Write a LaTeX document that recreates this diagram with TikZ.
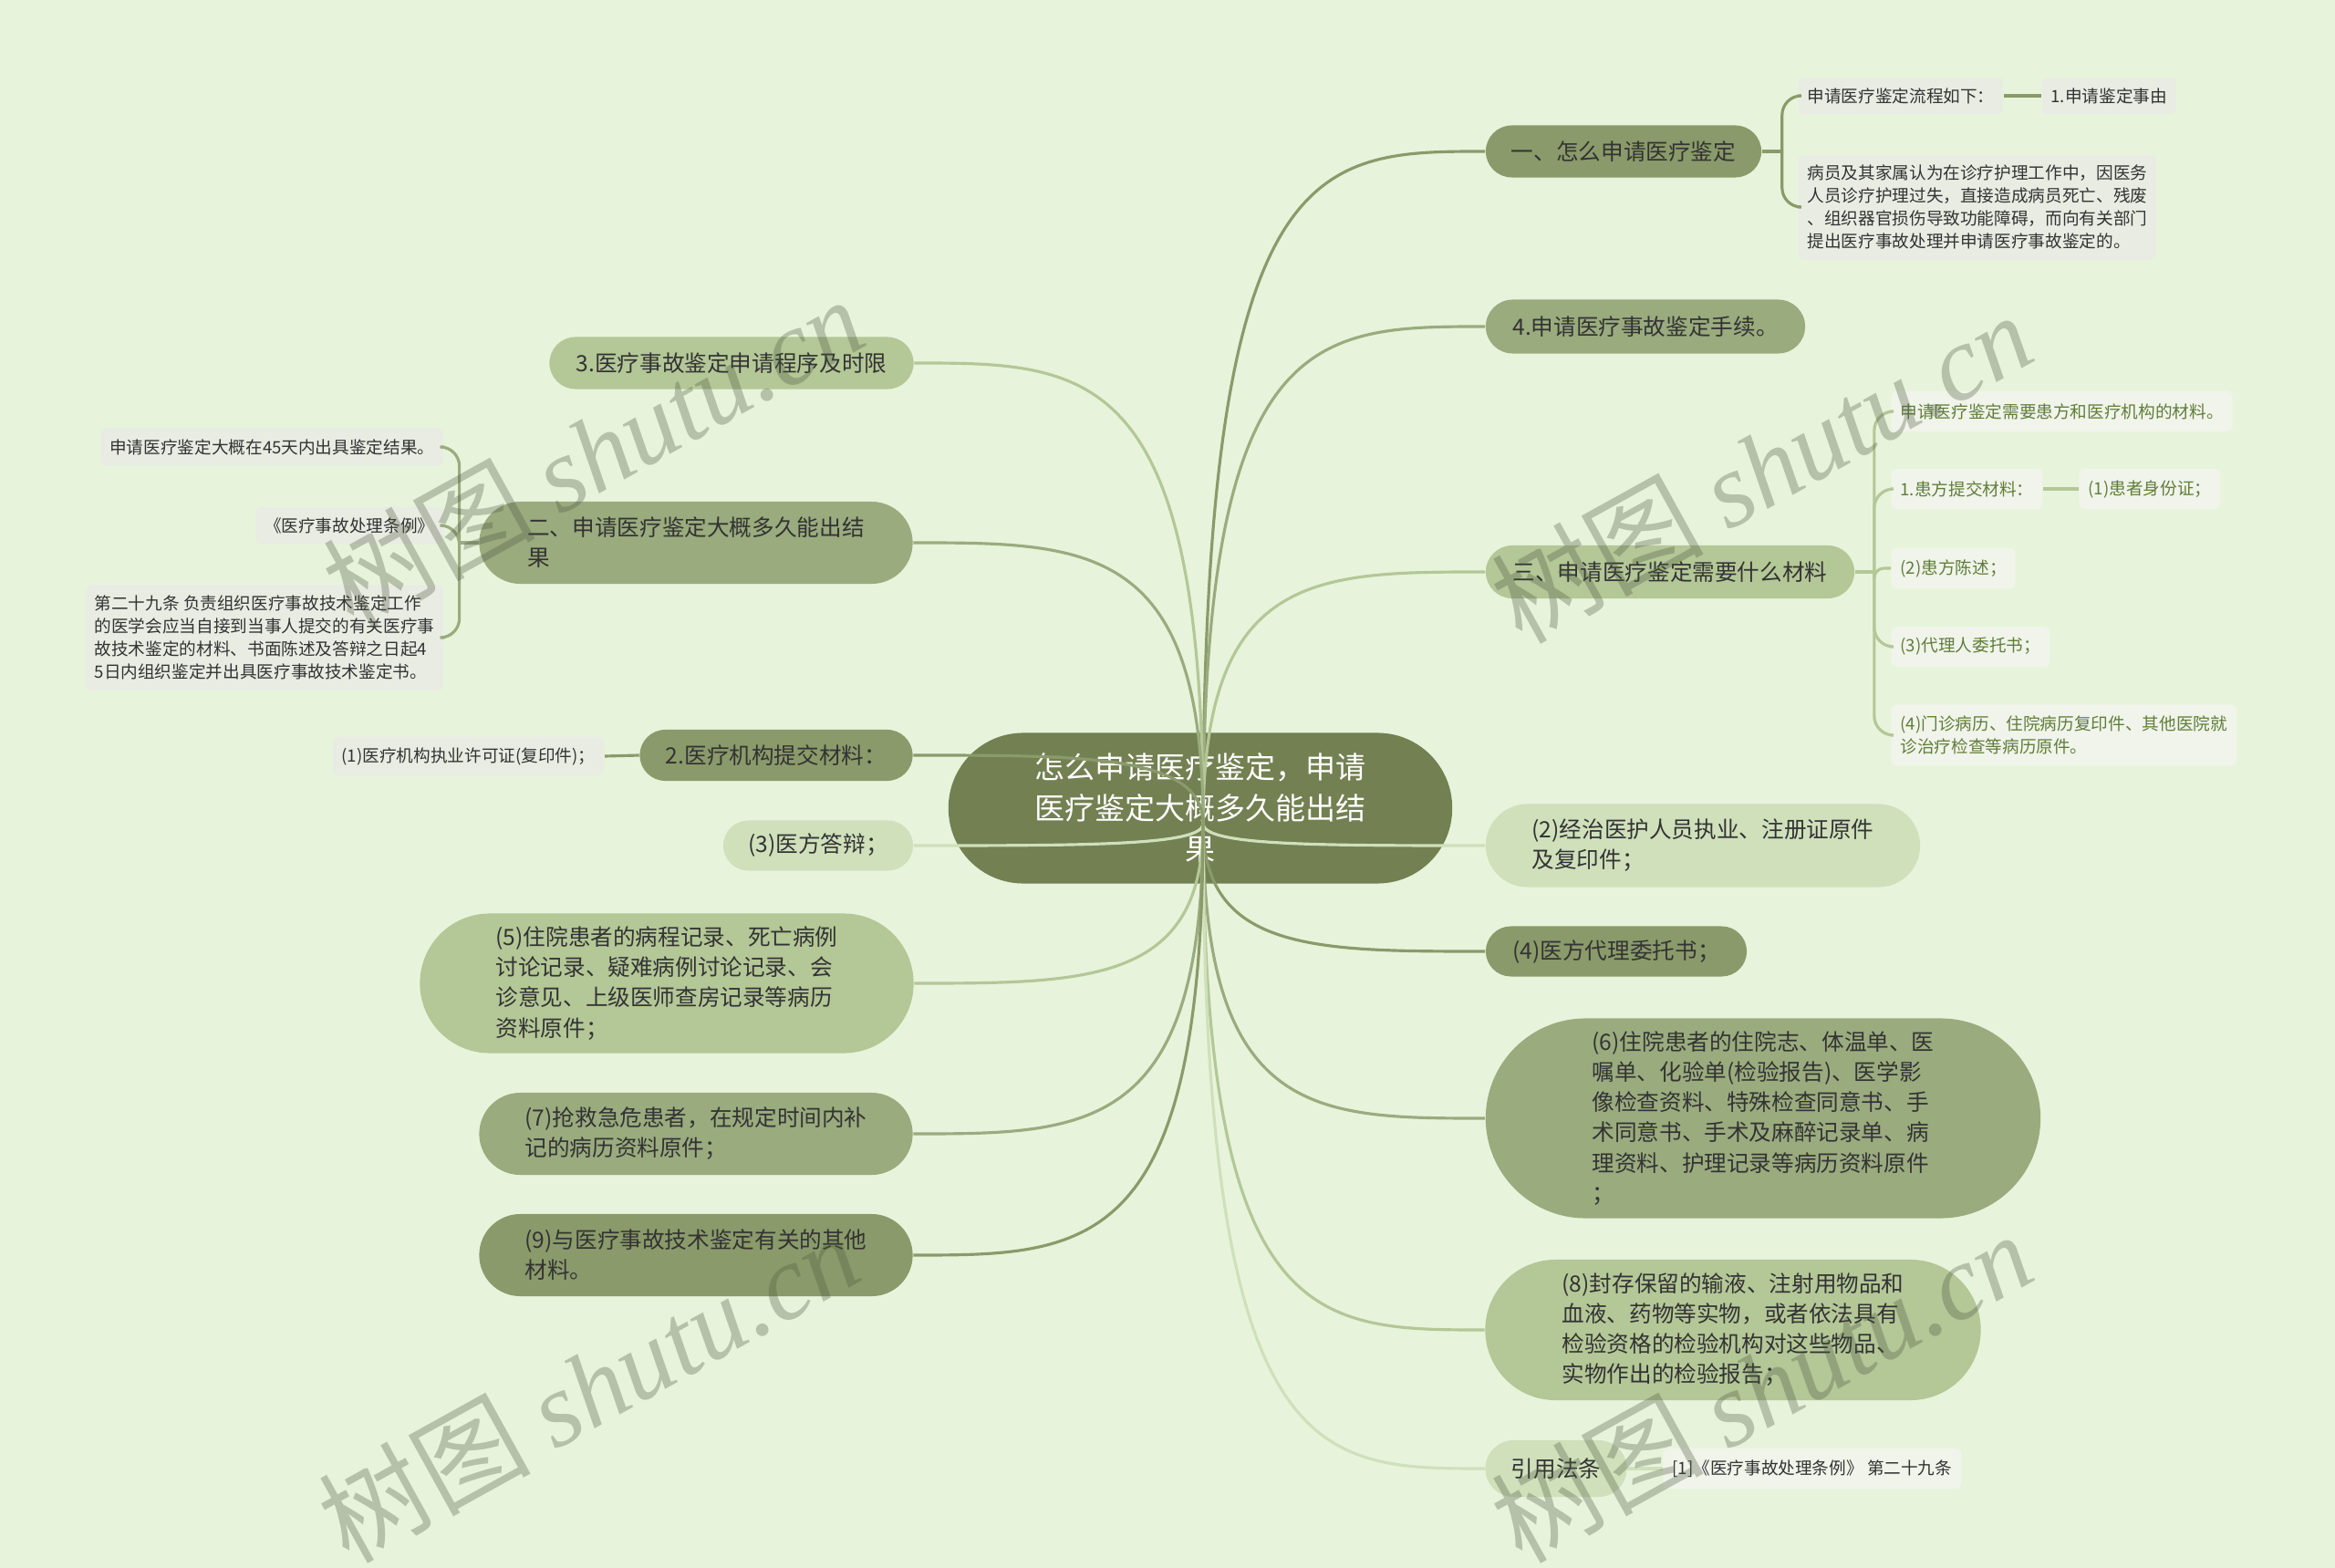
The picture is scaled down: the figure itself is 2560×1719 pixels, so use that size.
\documentclass[tikz,border=0pt]{standalone}
\usepackage{fontspec}
\setmainfont{Noto Sans CJK SC}
\newfontfamily\wmfont{Liberation Serif}
\usepackage{tikz}
\usetikzlibrary{shapes.misc,calc,positioning}
\definecolor{bgc}{HTML}{E7F4DB}
\definecolor{rootc}{HTML}{738052}
\definecolor{darkc}{HTML}{8A9A6A}
\definecolor{midc}{HTML}{9AAB7E}
\definecolor{lightc}{HTML}{B4C797}
\definecolor{palec}{HTML}{CFE0BB}
\definecolor{leafc}{HTML}{E9ECE3}
\definecolor{subc}{HTML}{F0F4EA}
\definecolor{subtext}{HTML}{617D3A}
\definecolor{inkc}{HTML}{333333}
\definecolor{wmc}{HTML}{4D5A40}

\begin{document}
\begin{tikzpicture}[x=0.01cm,y=-0.01cm,
  rootnode/.style={rectangle, rounded corners=0.82cm, fill=rootc, text=white, align=center,
    font=\fontsize{9.4pt}{12.8pt}\selectfont},
  topic/.style={rounded rectangle, fill=#1, text=inkc, align=left, inner sep=0pt,
    font=\fontsize{7pt}{9.4pt}\selectfont},
  leaf/.style={rectangle, rounded corners=1.5pt, fill=leafc, text=inkc, align=left,
    inner xsep=2.8pt, font=\fontsize{5.3pt}{7.1pt}\selectfont},
  subleaf/.style={leaf, fill=subc, text=subtext},
  link/.style={line width=0.9pt, draw=#1},
  branch/.style={to path={.. controls (\tikztostart |- \tikztotarget) and
    ($(\tikztostart |- \tikztotarget)!0.4!(\tikztotarget)$) .. (\tikztotarget)}},
  wm/.style={text=wmc, text opacity=0.32, rotate=29, font=\fontsize{33pt}{33pt}\selectfont}
]
  \useasboundingbox (0,0) rectangle (2560,1719);
  \fill[bgc] (0,0) rectangle (2560,1719);

  % centre
  \node[rootnode, minimum width=5.52cm, minimum height=1.65cm] (root) at (1316,886)
    {怎么申请医疗鉴定，申请\\医疗鉴定大概多久能出结\\果};
  \coordinate (hub) at (1319,903);

  % right side
  \node[topic=darkc, minimum width=3.02cm, minimum height=0.57cm] (b1) at (1780,166) {一、怎么申请医疗鉴定};
  \node[topic=midc, minimum width=3.50cm, minimum height=0.59cm] (b2) at (1804,358) {4.申请医疗事故鉴定手续。};
  \node[topic=lightc, minimum width=4.04cm, minimum height=0.58cm] (b3) at (1831,627) {三、申请医疗鉴定需要什么材料};
  \node[topic=palec, minimum width=4.76cm, minimum height=0.91cm] (b4) at (1867,927)
    {(2)经治医护人员执业、注册证原件\\及复印件；};
  \node[topic=darkc, minimum width=2.86cm, minimum height=0.55cm] (b5) at (1772,1043) {(4)医方代理委托书；};
  \node[topic=midc, minimum width=6.08cm, minimum height=2.19cm] (b6) at (1933,1226)
    {(6)住院患者的住院志、体温单、医\\嘱单、化验单(检验报告)、医学影\\像检查资料、特殊检查同意书、手\\术同意书、手术及麻醉记录单、病\\理资料、护理记录等病历资料原件\\；};
  \node[topic=lightc, minimum width=5.43cm, minimum height=1.54cm] (b7) at (1900,1458)
    {(8)封存保留的输液、注射用物品和\\血液、药物等实物，或者依法具有\\检验资格的检验机构对这些物品、\\实物作出的检验报告；};
  \node[topic=palec, minimum width=1.55cm, minimum height=0.62cm] (b8) at (1706,1610) {引用法条};

  % left side
  \node[topic=lightc, minimum width=3.99cm, minimum height=0.57cm] (l1) at (802,398) {3.医疗事故鉴定申请程序及时限};
  \node[topic=midc, minimum width=4.75cm, minimum height=0.90cm] (l2) at (763,595)
    {二、申请医疗鉴定大概多久能出结\\果};
  \node[topic=darkc, minimum width=2.99cm, minimum height=0.56cm] (l3) at (851,828) {2.医疗机构提交材料：};
  \node[topic=palec, minimum width=2.08cm, minimum height=0.55cm] (l4) at (897,927) {(3)医方答辩；};
  \node[topic=lightc, minimum width=5.41cm, minimum height=1.53cm] (l5) at (731,1078)
    {(5)住院患者的病程记录、死亡病例\\讨论记录、疑难病例讨论记录、会\\诊意见、上级医师查房记录等病历\\资料原件；};
  \node[topic=midc, minimum width=4.75cm, minimum height=0.90cm] (l6) at (763,1243)
    {(7)抢救急危患者，在规定时间内补\\记的病历资料原件；};
  \node[topic=darkc, minimum width=4.75cm, minimum height=0.90cm] (l7) at (763,1376)
    {(9)与医疗事故技术鉴定有关的其他\\材料。};

  % leaves
  \node[leaf, anchor=west, minimum height=0.37cm] (r1) at (1971,105) {申请医疗鉴定流程如下：};
  \node[leaf, anchor=west, minimum height=0.37cm] (r2) at (2238,105) {1.申请鉴定事由};
  \node[leaf, anchor=west] (r3) at (1971,227)
    {病员及其家属认为在诊疗护理工作中，因医务\\人员诊疗护理过失，直接造成病员死亡、残废\\、组织器官损伤导致功能障碍，而向有关部门\\提出医疗事故处理并申请医疗事故鉴定的。};

  \node[subleaf, anchor=west, minimum height=0.44cm] (s1) at (2073,451) {申请医疗鉴定需要患方和医疗机构的材料。};
  \node[subleaf, anchor=west, minimum height=0.44cm] (s2) at (2073,536) {1.患方提交材料：};
  \node[subleaf, anchor=west, minimum height=0.44cm] (s3) at (2279,536) {(1)患者身份证；};
  \node[subleaf, anchor=west, minimum height=0.44cm] (s4) at (2073,623) {(2)患方陈述；};
  \node[subleaf, anchor=west, minimum height=0.44cm] (s5) at (2073,709) {(3)代理人委托书；};
  \node[subleaf, anchor=west, minimum height=0.67cm] (s6) at (2073,806)
    {(4)门诊病历、住院病历复印件、其他医院就\\诊治疗检查等病历原件。};

  \node[leaf, fill=subc, anchor=west, minimum height=0.44cm] (c1) at (1823,1610) {[1]《医疗事故处理条例》 第二十九条};

  \node[leaf, anchor=east, minimum height=0.41cm] (g1) at (487,490) {申请医疗鉴定大概在45天内出具鉴定结果。};
  \node[leaf, anchor=east, minimum height=0.41cm] (g2) at (487,576) {《医疗事故处理条例》};
  \node[leaf, anchor=east] (g3) at (487,699)
    {第二十九条 负责组织医疗事故技术鉴定工作\\的医学会应当自接到当事人提交的有关医疗事\\故技术鉴定的材料、书面陈述及答辩之日起4\\5日内组织鉴定并出具医疗事故技术鉴定书。};
  \node[leaf, anchor=east, minimum height=0.41cm] (g4) at (663,829) {(1)医疗机构执业许可证(复印件)；};

  % branches from the centre
  \draw[link=darkc] (hub) to[branch] (b1.west);
  \draw[link=midc] (hub) to[branch] (b2.west);
  \draw[link=lightc] (hub) to[branch] (b3.west);
  \draw[link=palec] (hub) to[branch] (b4.west);
  \draw[link=darkc] (hub) to[branch] (b5.west);
  \draw[link=midc] (hub) to[branch] (b6.west);
  \draw[link=lightc] (hub) to[branch] (b7.west);
  \draw[link=palec] (hub) to[branch] (b8.west);
  \draw[link=lightc] (hub) to[branch] (l1.east);
  \draw[link=midc] (hub) to[branch] (l2.east);
  \draw[link=darkc] (hub) to[branch] (l3.east);
  \draw[link=palec] (hub) to[branch] (l4.east);
  \draw[link=lightc] (hub) to[branch] (l5.east);
  \draw[link=midc] (hub) to[branch] (l6.east);
  \draw[link=darkc] (hub) to[branch] (l7.east);

  % brackets
  \draw[link=darkc] (b1.east) -- ++(22,0) coordinate (k1);
  \draw[link=darkc, rounded corners=6pt] (k1) |- (r1.west);
  \draw[link=darkc, rounded corners=6pt] (k1) |- (r3.west);
  \draw[link=darkc] (r1) -- (r2);

  \draw[link=lightc] (b3.east) -- ++(21,0) coordinate (k3);
  \draw[link=lightc, rounded corners=6pt] (k3) |- (s1.west);
  \draw[link=lightc, rounded corners=6pt] (k3) |- (s2.west);
  \draw[link=lightc, rounded corners=3pt] (k3) |- (s4.west);
  \draw[link=lightc, rounded corners=6pt] (k3) |- (s5.west);
  \draw[link=lightc, rounded corners=6pt] (k3) |- (s6.west);
  \draw[link=lightc] (s2) -- (s3);

  \draw[link=midc] (l2.west) -- ++(-21,0) coordinate (k2);
  \draw[link=midc, rounded corners=6pt] (k2) |- (g1.east);
  \draw[link=midc, rounded corners=6pt] (k2) |- (g2.east);
  \draw[link=midc, rounded corners=6pt] (k2) |- (g3.east);

  \draw[link=darkc] (l3.west) -- (g4.east);
  \draw[link=palec] (b8.east) -- (c1.west);

  % watermark
  \node[wm] (wm1) at (650,495) {树图 {\wmfont\itshape shutu.cn}};
  \node[wm] (wm2) at (1931,512) {树图 {\wmfont\itshape shutu.cn}};
  \node[wm] (wm3) at (645,1520) {树图 {\wmfont\itshape shutu.cn}};
  \node[wm] (wm4) at (1931,1520) {树图 {\wmfont\itshape shutu.cn}};
\end{tikzpicture}
\end{document}
